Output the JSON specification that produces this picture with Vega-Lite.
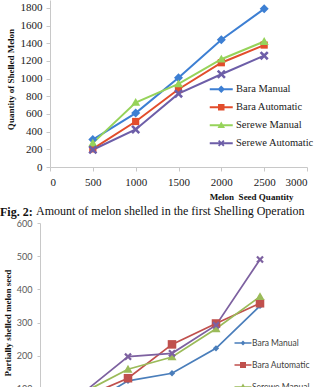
{
  "$schema": "https://vega.github.io/schema/vega-lite/v6.json",
  "background": "white",
  "padding": {"left": 0, "top": 0, "right": 0, "bottom": 0},
  "bounds": "flush",
  "spacing": 56,
  "config": {"view": {"stroke": null}},
  "resolve": {
    "scale": {"color": "independent", "shape": "independent"},
    "legend": {"color": "independent", "shape": "independent"}
  },
  "datasets": {
    "first": [
      {"series": "Bara Manual", "qty": 500, "value": 310},
      {"series": "Bara Manual", "qty": 1000, "value": 610},
      {"series": "Bara Manual", "qty": 1500, "value": 1010},
      {"series": "Bara Manual", "qty": 2000, "value": 1440},
      {"series": "Bara Manual", "qty": 2500, "value": 1790},
      {"series": "Bara Automatic", "qty": 500, "value": 205},
      {"series": "Bara Automatic", "qty": 1000, "value": 515},
      {"series": "Bara Automatic", "qty": 1500, "value": 880},
      {"series": "Bara Automatic", "qty": 2000, "value": 1180},
      {"series": "Bara Automatic", "qty": 2500, "value": 1380},
      {"series": "Serewe Manual", "qty": 500, "value": 270},
      {"series": "Serewe Manual", "qty": 1000, "value": 730},
      {"series": "Serewe Manual", "qty": 1500, "value": 940},
      {"series": "Serewe Manual", "qty": 2000, "value": 1220},
      {"series": "Serewe Manual", "qty": 2500, "value": 1420},
      {"series": "Serewe Automatic", "qty": 500, "value": 195},
      {"series": "Serewe Automatic", "qty": 1000, "value": 425},
      {"series": "Serewe Automatic", "qty": 1500, "value": 830},
      {"series": "Serewe Automatic", "qty": 2000, "value": 1050},
      {"series": "Serewe Automatic", "qty": 2500, "value": 1260}
    ],
    "partial": [
      {"series": "Bara Manual", "qty": 500, "value": 45},
      {"series": "Bara Manual", "qty": 1000, "value": 124},
      {"series": "Bara Manual", "qty": 1500, "value": 147},
      {"series": "Bara Manual", "qty": 2000, "value": 222},
      {"series": "Bara Manual", "qty": 2500, "value": 350},
      {"series": "Bara Automatic", "qty": 500, "value": 75},
      {"series": "Bara Automatic", "qty": 1000, "value": 132},
      {"series": "Bara Automatic", "qty": 1500, "value": 234},
      {"series": "Bara Automatic", "qty": 2000, "value": 297},
      {"series": "Bara Automatic", "qty": 2500, "value": 358},
      {"series": "Serewe Manual", "qty": 500, "value": 90},
      {"series": "Serewe Manual", "qty": 1000, "value": 159},
      {"series": "Serewe Manual", "qty": 1500, "value": 196},
      {"series": "Serewe Manual", "qty": 2000, "value": 281},
      {"series": "Serewe Manual", "qty": 2500, "value": 378},
      {"series": "Serewe Automatic", "qty": 500, "value": 90},
      {"series": "Serewe Automatic", "qty": 1000, "value": 197},
      {"series": "Serewe Automatic", "qty": 1500, "value": 207},
      {"series": "Serewe Automatic", "qty": 2000, "value": 292},
      {"series": "Serewe Automatic", "qty": 2500, "value": 490}
    ]
  },
  "vconcat": [
    {
      "width": 257,
      "height": 167,
      "data": {"name": "first"},
      "title": {
        "text": "Amount of melon shelled in the first Shelling Operation",
        "orient": "bottom", "anchor": "start", "frame": "group", "dx": -14, "offset": 5,
        "font": "Liberation Serif", "fontSize": 12, "fontWeight": "normal", "color": "#111111"
      },
      "encoding": {
        "x": {
          "field": "qty", "type": "quantitative",
          "scale": {"domain": [0, 3000], "nice": false},
          "axis": {
            "values": [0, 500, 1000, 1500, 2000, 2500, 3000], "format": "d",
            "grid": false, "domainColor": "#c8c8c8", "tickColor": "#c8c8c8", "tickSize": 4,
            "labelFont": "Liberation Serif", "labelFontSize": 11, "labelColor": "#1a1a1a", "labelPadding": 5,
            "title": "Melon\u00a0 Seed Quantity", "titleFont": "Liberation Serif", "titleFontSize": 9,
            "titleFontWeight": "bold", "titleColor": "#111111", "titleX": 201, "titleAlign": "center",
            "titlePadding": 5
          }
        },
        "y": {
          "field": "value", "type": "quantitative",
          "scale": {"domain": [0, 1890], "nice": false},
          "axis": {
            "values": [0, 200, 400, 600, 800, 1000, 1200, 1400, 1600, 1800], "format": "d",
            "grid": false, "domainColor": "#c8c8c8", "tickColor": "#c8c8c8", "tickSize": 4,
            "labelFont": "Liberation Serif", "labelFontSize": 11, "labelColor": "#1a1a1a", "labelPadding": 4,
            "title": "Quantity of Shelled Melon", "titleFont": "Liberation Serif", "titleFontSize": 9,
            "titleFontWeight": "bold", "titleColor": "#111111", "titlePadding": 5, "titleY": 79
          }
        },
        "color": {
          "field": "series", "type": "nominal",
          "scale": {
            "domain": ["Bara Manual", "Bara Automatic", "Serewe Manual", "Serewe Automatic"],
            "range": ["#3d7fd3", "#e24d2c", "#96d35a", "#6d5ea8"]
          },
          "legend": {
            "orient": "none", "legendX": 166, "legendY": 84, "title": null, "padding": 0,
            "symbolSize": 100, "symbolStrokeWidth": 0, "symbolOpacity": 1, "labelOffset": 9.5, "rowPadding": 7,
            "labelFont": "Liberation Serif", "labelFontSize": 10.5, "labelColor": "#1a1a1a"
          }
        }
      },
      "layer": [
        {"mark": {"type": "line", "strokeWidth": 2}},
        {
          "mark": {"type": "point", "filled": true, "opacity": 0},
          "encoding": {
            "shape": {
              "field": "series", "type": "nominal",
              "scale": {
                "domain": ["Bara Manual", "Bara Automatic", "Serewe Manual", "Serewe Automatic"],
                "range": [
                  "M-2.3,-0.2H2.3V0.2H-2.3ZM-0.75,0L0,-0.75L0.75,0L0,0.75Z",
                  "M-2.3,-0.2H2.3V0.2H-2.3ZM-0.65,-0.65H0.65V0.65H-0.65Z",
                  "M-2.3,-0.2H2.3V0.2H-2.3ZM0,-0.75L0.75,0.55H-0.75Z",
                  "M-2.3,-0.2H2.3V0.2H-2.3ZM-0.65,-0.39L-0.39,-0.65L0,-0.26L0.39,-0.65L0.65,-0.39L0.26,0L0.65,0.39L0.39,0.65L0,0.26L-0.39,0.65L-0.65,0.39L-0.26,0Z"
                ]
              },
              "legend": {
                "orient": "none", "legendX": 166, "legendY": 84, "title": null, "padding": 0,
                "symbolSize": 100, "symbolStrokeWidth": 0, "symbolOpacity": 1, "labelOffset": 9.5, "rowPadding": 7,
                "labelFont": "Liberation Serif", "labelFontSize": 10.5, "labelColor": "#1a1a1a"
              }
            }
          }
        },
        {
          "transform": [{"filter": "datum.series === 'Bara Manual'"}],
          "mark": {"type": "point", "filled": true, "opacity": 1, "size": 81, "shape": "M-1,0L0,-1L1,0L0,1Z"}
        },
        {
          "transform": [{"filter": "datum.series === 'Bara Automatic'"}],
          "mark": {"type": "point", "filled": true, "opacity": 1, "size": 81, "shape": "M-0.8,-0.8H0.8V0.8H-0.8Z"}
        },
        {
          "transform": [{"filter": "datum.series === 'Serewe Manual'"}],
          "mark": {"type": "point", "filled": true, "opacity": 1, "size": 81, "shape": "M0,-1L1,0.75H-1Z"}
        },
        {
          "transform": [{"filter": "datum.series === 'Serewe Automatic'"}],
          "mark": {"type": "point", "filled": true, "opacity": 1, "size": 81, "shape": "M-1,-0.6L-0.6,-1L0,-0.4L0.6,-1L1,-0.6L0.4,0L1,0.6L0.6,1L0,0.4L-0.6,1L-1,0.6L-0.4,0Z"}
        }
      ]
    },
    {
      "width": 254,
      "height": 199,
      "data": {"name": "partial"},
      "title": {
        "text": "Fig. 2:",
        "anchor": "start", "frame": "group", "dx": -50, "offset": 0,
        "font": "Liberation Serif", "fontSize": 12, "fontWeight": "bold", "color": "#111111"
      },
      "encoding": {
        "x": {
          "field": "qty", "type": "quantitative",
          "scale": {"domain": [113.6, 3000], "nice": false, "zero": false},
          "axis": null
        },
        "y": {
          "field": "value", "type": "quantitative",
          "scale": {"domain": [0, 600], "nice": false},
          "axis": {
            "values": [0, 100, 200, 300, 400, 500, 600], "offset": 10,
            "grid": false, "domainColor": "#c8c8c8", "tickColor": "#c8c8c8", "tickSize": 3,
            "labelFont": "Lato", "labelFontSize": 9, "labelColor": "#595959", "labelPadding": 5,
            "title": "Partially shelled melon seed", "titleFont": "Liberation Serif", "titleFontSize": 9,
            "titleFontWeight": "bold", "titleColor": "#111111", "titlePadding": 4
          }
        },
        "color": {
          "field": "series", "type": "nominal",
          "scale": {
            "domain": ["Bara Manual", "Bara Automatic", "Serewe Manual", "Serewe Automatic"],
            "range": ["#4a7ebb", "#c0504d", "#9bbb59", "#7d61a0"]
          },
          "legend": {
            "orient": "none", "legendX": 188, "legendY": 115, "title": null, "padding": 0,
            "symbolSize": 100, "symbolStrokeWidth": 0, "symbolOpacity": 1, "labelOffset": 4, "rowPadding": 12,
            "labelFont": "Lato", "labelFontSize": 8.5, "labelColor": "#404040"
          }
        }
      },
      "layer": [
        {"mark": {"type": "line", "strokeWidth": 1.75}},
        {
          "mark": {"type": "point", "filled": true, "opacity": 0},
          "encoding": {
            "shape": {
              "field": "series", "type": "nominal",
              "scale": {
                "domain": ["Bara Manual", "Bara Automatic", "Serewe Manual", "Serewe Automatic"],
                "range": [
                  "M-1.7,-0.16H1.7V0.16H-1.7ZM-0.5,0L0,-0.5L0.5,0L0,0.5Z",
                  "M-1.7,-0.16H1.7V0.16H-1.7ZM-0.6,-0.6H0.6V0.6H-0.6Z",
                  "M-1.7,-0.16H1.7V0.16H-1.7ZM0,-0.7L0.7,0.5H-0.7Z",
                  "M-1.7,-0.16H1.7V0.16H-1.7ZM-0.6,-0.36L-0.36,-0.6L0,-0.24L0.36,-0.6L0.6,-0.36L0.24,0L0.6,0.36L0.36,0.6L0,0.24L-0.36,0.6L-0.6,0.36L-0.24,0Z"
                ]
              },
              "legend": {
                "orient": "none", "legendX": 188, "legendY": 115, "title": null, "padding": 0,
                "symbolSize": 100, "symbolStrokeWidth": 0, "symbolOpacity": 1, "labelOffset": 4, "rowPadding": 12,
                "labelFont": "Lato", "labelFontSize": 8.5, "labelColor": "#404040"
              }
            }
          }
        },
        {
          "transform": [{"filter": "datum.series === 'Bara Manual'"}],
          "mark": {"type": "point", "filled": true, "opacity": 1, "size": 81, "shape": "M-0.7,0L0,-0.7L0.7,0L0,0.7Z"}
        },
        {
          "transform": [{"filter": "datum.series === 'Bara Automatic'"}],
          "mark": {"type": "point", "filled": true, "opacity": 1, "size": 81, "shape": "M-0.95,-0.95H0.95V0.95H-0.95Z"}
        },
        {
          "transform": [{"filter": "datum.series === 'Serewe Manual'"}],
          "mark": {"type": "point", "filled": true, "opacity": 1, "size": 81, "shape": "M0,-1L1,0.75H-1Z"}
        },
        {
          "transform": [{"filter": "datum.series === 'Serewe Automatic'"}],
          "mark": {"type": "point", "filled": true, "opacity": 1, "size": 81, "shape": "M-0.85,-0.5L-0.5,-0.85L0,-0.35L0.5,-0.85L0.85,-0.5L0.35,0L0.85,0.5L0.5,0.85L0,0.35L-0.5,0.85L-0.85,0.5L-0.35,0Z"}
        }
      ]
    }
  ]
}
